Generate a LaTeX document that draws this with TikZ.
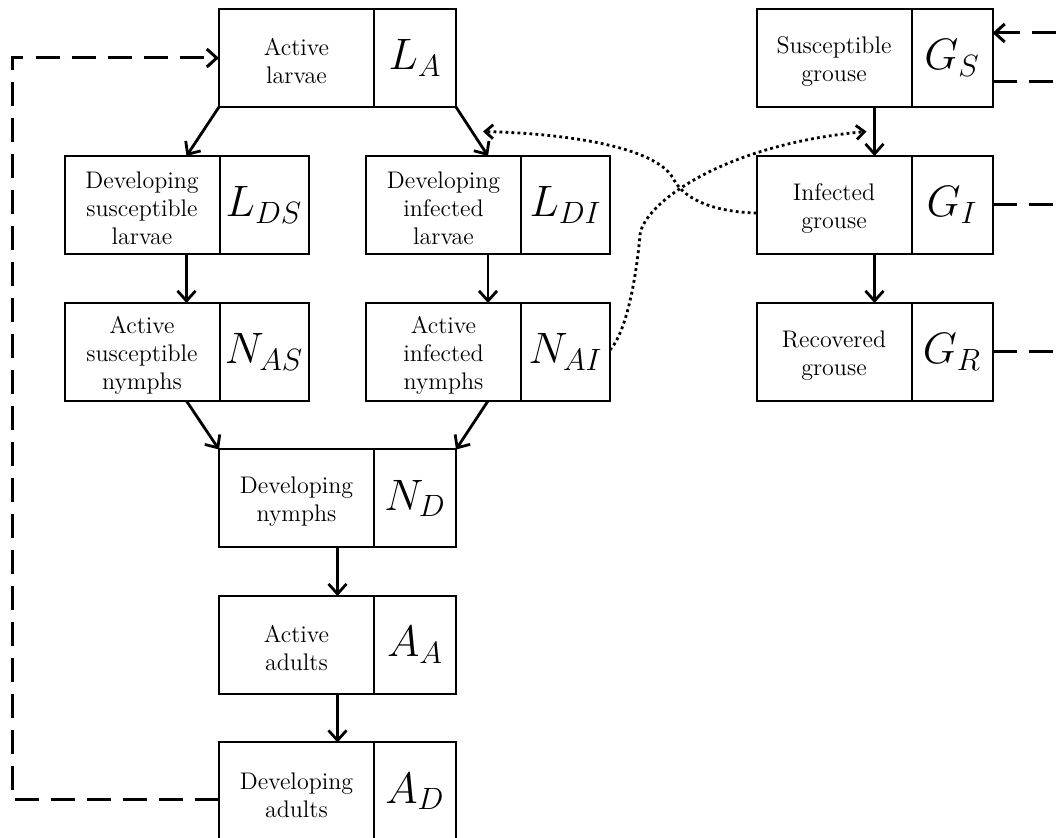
\RequirePackage{fix-cm}
\documentclass[tikz,border=0pt]{standalone}
\usepackage{fontspec}
\usetikzlibrary{arrows.meta,fit,calc}
\newcommand\compbox[6]{%
  \node[tpart] (#1t) at (#2,#3) {};
  \node[tlabel] (#1l) at ($(#1t.center)+(0,3.5)$) {#4};
  \node[mpart, minimum width=#6, anchor=west] (#1m) at (#1t.east) {#5};
  \node[fitbox, fit=(#1t)(#1m)] (#1) {};
}
\begin{document}
\begin{tikzpicture}[x=0.5pt,y=-0.5pt,
  tpart/.style={draw, line width=1pt, minimum width=77.5pt, minimum height=49pt,
    inner sep=0pt, outer sep=0pt},
  tlabel/.style={inner sep=0pt, align=center, font=\fontsize{12}{14}\selectfont},
  mpart/.style={draw, line width=1pt, minimum height=49pt, inner sep=0pt, outer sep=0pt,
    font=\fontsize{22}{24}\selectfont},
  fitbox/.style={inner sep=0pt, outer sep=0pt, draw=none},
  arr/.style={line width=1.4pt, -{Straight Barb[length=5pt,width=9pt]}},
  dsh/.style={line width=1.5pt, dash pattern=on 12pt off 6pt},
  dsharr/.style={dsh, -{Straight Barb[length=5pt,width=9pt]}},
  dsharrin/.style={dsh, {Straight Barb[length=5pt,width=9pt]}-},
  dotarr/.style={line width=1.4pt, dash pattern=on 1.4pt off 1.6pt,
    -{Straight Barb[length=4pt,width=7pt]}}
]
\useasboundingbox (0,0) rectangle (1056,838);
\clip (0,0) rectangle (1056,838);

\compbox{LA}{296.5}{58}{Active\\larvae}{$L_A$}{41pt}
\compbox{DS}{142}{205}{Developing\\susceptible\\larvae}{$L_{DS}$}{44.5pt}
\compbox{DI}{443.5}{205}{Developing\\infected\\larvae}{$L_{DI}$}{44.5pt}
\compbox{NAS}{142}{352}{Active\\susceptible\\nymphs}{$N_{AS}$}{44.5pt}
\compbox{NAI}{443.5}{352}{Active\\infected\\nymphs}{$N_{AI}$}{44.5pt}
\compbox{ND}{296.5}{498.5}{Developing\\nymphs}{$N_D$}{41pt}
\compbox{AA}{296.5}{645}{Active\\adults}{$A_A$}{41pt}
\compbox{AD}{296.5}{791.5}{Developing\\adults}{$A_D$}{41pt}
\compbox{GS}{834}{58}{Susceptible\\grouse}{$G_S$}{40.5pt}
\compbox{GI}{834}{205}{Infected\\grouse}{$G_I$}{40.5pt}
\compbox{GR}{834}{352}{Recovered\\grouse}{$G_R$}{40.5pt}

% solid flows
\draw[arr] (LA.south west) -- (DS.north);
\draw[arr] (LA.south east) -- (DI.north);
\draw[arr] (DS.south) -- (NAS.north);
\draw[arr] (DI.south) -- (NAI.north);
\draw[arr] (NAS.south) -- (ND.north west);
\draw[arr] (NAI.south) -- (ND.north east);
\draw[arr] (ND.south) -- (AA.north);
\draw[arr] (AA.south) -- (AD.north);
\draw[arr] (GS.south) -- (GI.north);
\draw[arr] (GI.south) -- (GR.north);

% dashed loop
\draw[dsharr] ($(AD.west)+(0,8)$) -| ($(LA.west)+(-207,0)$) -- (LA.west);

% dashed lines on the right
\draw[dsharrin] ($(GS.east)+(0,-25)$) -- ($(GS.east)+(90,-25)$);
\draw[dsh] ($(GS.east)+(0,24)$) -- ($(GS.east)+(90,24)$);
\draw[dsh] (GI.east) -- ($(GI.east)+(90,0)$);
\draw[dsh] (GR.east) -- ($(GR.east)+(90,0)$);

% dotted transmission
\path (LA.south east) -- (DI.north) coordinate[pos=0.5] (m1);
\path (GS.south) -- (GI.north) coordinate[pos=0.5] (m2);
\coordinate (T1) at ($(m1)+(11,0)$);
\coordinate (T2) at ($(m2)+(-8,0)$);
\draw[dotarr] ($(GI.west)+(0,8)$) .. controls (715,212) and (685,200) .. (674,180)
  .. controls (660,150) and (580,134) .. (T1);
\draw[dotarr] ($(NAI.east)+(0,-2)$) .. controls (628,330) and (637,270) .. (640,235)
  .. controls (643,205) and (720,145) .. (T2);
\end{tikzpicture}
\end{document}
